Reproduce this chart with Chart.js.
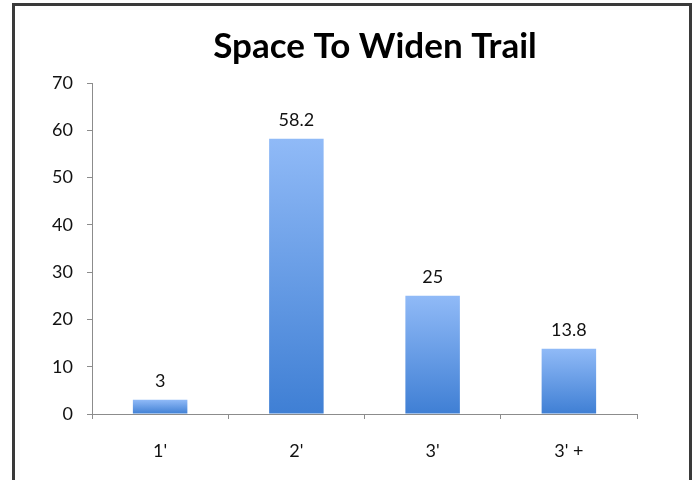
<!DOCTYPE html>
<html>
<head>
<meta charset="utf-8">
<title>Space To Widen Trail</title>
<script src="https://cdn.jsdelivr.net/npm/chart.js@4.4.1/dist/chart.umd.min.js"></script>
<style>
  html, body { margin: 0; padding: 0; background: #fff; overflow: hidden; }
  #frame {
    position: absolute; left: 12px; top: 3px; width: 680px; height: 520px;
    border: 3px solid #3a3a3a; box-sizing: border-box;
  }
  #wrap { position: absolute; left: 0; top: 0; width: 700px; height: 480px; }
</style>
</head>
<body>
<div id="frame"></div>
<div id="wrap"><canvas id="chart" width="700" height="480"></canvas></div>
<script>
const categories = ["1'", "2'", "3'", "3' +"];
const values = [3, 58.2, 25, 13.8];
const yTicks = [0, 10, 20, 30, 40, 50, 60, 70];

const FONT = "Lato, 'Open Sans', sans-serif";

// vertical blue gradient for each bar, light at the top
function barFill(ctx) {
  const chart = ctx.chart;
  const y = chart.scales.y;
  if (!y || !chart.chartArea || typeof ctx.raw !== 'number') return '#6a9ee8';
  const top = y.getPixelForValue(ctx.raw);
  const bottom = y.getPixelForValue(0);
  if (!isFinite(top) || !isFinite(bottom) || top === bottom) return '#6a9ee8';
  const g = chart.ctx.createLinearGradient(0, top, 0, bottom);
  g.addColorStop(0, '#90baf7');
  g.addColorStop(1, '#3f7fd4');
  return g;
}

const titlePlugin = {
  id: 'bigTitle',
  afterDraw(chart) {
    const c = chart.ctx;
    c.save();
    c.font = 'bold 35px ' + FONT;
    c.fillStyle = '#000';
    c.textAlign = 'center';
    c.textBaseline = 'middle';
    c.fillText('Space To Widen Trail', 375, 47);
    c.restore();
  }
};

const valueLabels = {
  id: 'valueLabels',
  afterDatasetsDraw(chart) {
    const c = chart.ctx;
    const meta = chart.getDatasetMeta(0);
    c.save();
    c.font = '18px ' + FONT;
    c.fillStyle = '#111';
    c.textAlign = 'center';
    c.textBaseline = 'bottom';
    meta.data.forEach((bar, i) => {
      c.fillText(String(values[i]), bar.x, bar.y - 10);
    });
    c.restore();
  }
};

new Chart(document.getElementById('chart'), {
  type: 'bar',
  data: {
    labels: categories,
    datasets: [{
      data: values,
      backgroundColor: barFill,
      borderWidth: 0,
      barPercentage: 0.4,
      categoryPercentage: 1
    }]
  },
  options: {
    responsive: false,
    animation: false,
    layout: { padding: { top: 83, right: 63, bottom: 0, left: 0 } },
    plugins: {
      legend: { display: false },
      title: { display: false },
      tooltip: { enabled: false }
    },
    scales: {
      x: {
        grid: { drawOnChartArea: false, drawTicks: true, tickLength: 5, color: '#8c8c8c', offset: true },
        border: { color: '#8c8c8c', width: 1 },
        ticks: { color: '#111', font: { family: FONT, size: 18 }, padding: 21 },
        afterFit(scale) { scale.height = 66; }
      },
      y: {
        min: 0,
        max: 70,
        afterBuildTicks(scale) { scale.ticks = yTicks.map(v => ({ value: v })); },
        grid: { drawOnChartArea: false, drawTicks: true, tickLength: 5, color: '#8c8c8c' },
        border: { color: '#8c8c8c', width: 1 },
        ticks: { color: '#111', font: { family: FONT, size: 18 }, padding: 14 },
        afterFit(scale) { scale.width = 92; }
      }
    }
  },
  plugins: [titlePlugin, valueLabels]
});
</script>
</body>
</html>
